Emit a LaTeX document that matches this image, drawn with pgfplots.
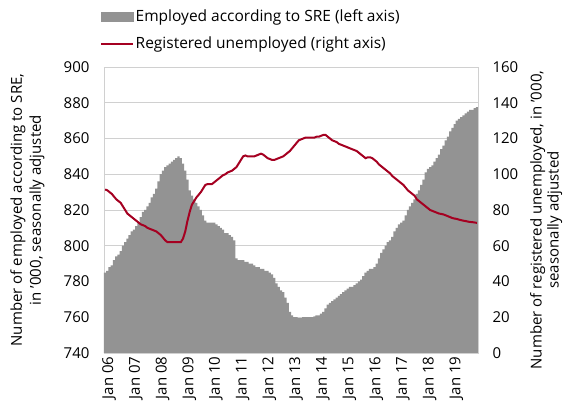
\documentclass[border=0pt]{standalone}
\usepackage{fontspec}
\setmainfont{Open Sans}
\usepackage{pgfplots}
\usepackage{pgfplotstable}
\pgfplotsset{compat=1.18}
\definecolor{bargray}{RGB}{147,147,147}
\definecolor{linered}{RGB}{165,0,33}
\definecolor{gridgray}{RGB}{208,208,208}

\pgfplotstableread[row sep=\\]{
m e u\\
0 785 91.5\\ 1 786 91\\ 2 788 90\\ 3 789 89\\ 4 792 87.5\\ 5 794 86\\ 6 795 85\\ 7 797 84\\ 8 800 82\\ 9 802 80\\ 10 804 78\\ 11 806 77\\
12 808 76\\ 13 809 75\\ 14 811 74\\ 15 813 73\\ 16 816 72\\ 17 819 71.5\\ 18 820 71\\ 19 822 70\\ 20 824 69.5\\ 21 827 69\\ 22 829 68.5\\ 23 832 68\\
24 836 67\\ 25 840 66\\ 26 842 64.5\\ 27 844 63\\ 28 845 62\\ 29 846 62\\ 30 847 62\\ 31 848 62\\ 32 849 62\\ 33 850 62\\ 34 849 62\\ 35 846 64\\
36 842 68\\ 37 837 74\\ 38 831 79\\ 39 828 83\\ 40 826 85\\ 41 824 87\\ 42 822 88.5\\ 43 820 90\\ 44 817 92\\ 45 814 94\\ 46 813 94.5\\ 47 813 94.5\\
48 813 94.5\\ 49 813 95.5\\ 50 812 96.5\\ 51 811 97.5\\ 52 810 98.5\\ 53 809 99.5\\ 54 807 100\\ 55 807 101\\ 56 806 101.5\\ 57 805 102\\ 58 803 103\\ 59 793 104\\
60 792 106\\ 61 792 108\\ 62 792 110\\ 63 791 110.5\\ 64 791 110\\ 65 790 110\\ 66 790 110\\ 67 789 110\\ 68 788 110.5\\ 69 788 111\\ 70 787 111.5\\ 71 787 111\\
72 786 110\\ 73 786 109\\ 74 785 108.5\\ 75 784 108\\ 76 782 108\\ 77 779 108.5\\ 78 777 109\\ 79 775 109.5\\ 80 774 110\\ 81 771 111\\ 82 768 112\\ 83 763 113\\
84 761 114.5\\ 85 760 116\\ 86 760 117.5\\ 87 759.5 119\\ 88 759.5 119.5\\ 89 760 120\\ 90 760 120.5\\ 91 760 120.5\\ 92 760 120.5\\ 93 760 120.5\\ 94 760.5 120.5\\ 95 761 121\\
96 761 121\\ 97 762 121.5\\ 98 763 122\\ 99 765 122\\ 100 767 121\\ 101 768 120\\ 102 769 119\\ 103 770 118.5\\ 104 771 118\\ 105 772 117\\ 106 773 116.5\\ 107 774 116\\
108 775 115.5\\ 109 776 115\\ 110 777 114.5\\ 111 777 114\\ 112 778 113.5\\ 113 779 113\\ 114 780 112\\ 115 781 111\\ 116 783 110\\ 117 785 109\\ 118 786 109.5\\ 119 787 109.5\\
120 787 109\\ 121 788 108\\ 122 790 107\\ 123 793 105.5\\ 124 796 104.5\\ 125 798 103.5\\ 126 800 102.5\\ 127 802 101.5\\ 128 803 100.5\\ 129 805 99\\ 130 808 98\\ 131 810 97\\
132 812 96\\ 133 813 95\\ 134 814 94\\ 135 817 92.5\\ 136 820 91\\ 137 822 90\\ 138 824 89\\ 139 826 88\\ 140 829 86\\ 141 831 85\\ 142 834 84\\ 143 837 83\\
144 841 82\\ 145 843 81\\ 146 844 80\\ 147 845 79.5\\ 148 847 79\\ 149 849 78.5\\ 150 851 78\\ 151 854 77.8\\ 152 856 77.5\\ 153 859 77\\ 154 861 76.5\\ 155 864 76\\
156 866 75.5\\ 157 868 75.2\\ 158 870 75\\ 159 871 74.6\\ 160 872 74.3\\ 161 873 74\\ 162 874 73.8\\ 163 875 73.5\\ 164 876 73.3\\ 165 876 73.2\\ 166 877 73\\ 167 877.5 72.8\\
}\data

\begin{document}
\begin{tikzpicture}[font=\fontsize{15}{17}\selectfont]
\path[use as bounding box] (-104pt,-61pt) rectangle (461pt,353pt);
\begin{axis}[
  scale only axis, width=374pt, height=286pt,
  at={(0pt,0pt)}, anchor=south west,
  xmin=-0.5, xmax=167.5, ymin=740, ymax=900,
  ytick={740,760,...,900},
  xtick={0,12,...,156},
  xticklabels={Jan 06,Jan 07,Jan 08,Jan 09,Jan 10,Jan 11,Jan 12,Jan 13,Jan 14,Jan 15,Jan 16,Jan 17,Jan 18,Jan 19},
  xticklabel style={rotate=90, anchor=east, yshift=-4pt, font=\fontsize{15}{17}\selectfont},
  yticklabel style={xshift=-11pt, font=\fontsize{15}{17}\selectfont},
  /pgf/number format/assume math mode=true,
  major tick length=0pt,
  ymajorgrids, grid style={gridgray, line width=0.9pt},
  axis line style={gridgray, line width=0.9pt},
  ylabel={Number of employed according to SRE,\\in '000, seasonally adjusted},
  ylabel style={align=center, at={(axis description cs:-0.2045,0.5)}, anchor=center, font=\fontsize{15}{19}\selectfont},
]
\addplot[ybar, bar width=1, bar shift=0pt, fill=bargray, draw=none] table[x=m, y=e]{\data};
\end{axis}
\begin{axis}[
  scale only axis, width=374pt, height=286pt,
  at={(0pt,0pt)}, anchor=south west,
  xmin=-0.5, xmax=167.5, ymin=0, ymax=160,
  axis x line=none, axis y line*=right,
  ytick={0,20,...,160},
  yticklabel style={xshift=11pt, anchor=west, font=\fontsize{15}{17}\selectfont},
  /pgf/number format/assume math mode=true,
  major tick length=0pt,
  axis line style={gridgray, line width=0.9pt},
  ylabel={Number of registered unemployed, in '000,\\seasonally adjusted},
  ylabel style={align=center, at={(axis description cs:1.182,0.465)}, anchor=center, font=\fontsize{15}{17}\selectfont},
  legend style={draw=none, fill=none, at={(-0.0187,1.2145)}, anchor=north west, row sep=10pt, nodes={inner xsep=1.5pt}, font=\fontsize{15.5}{17}\selectfont},
  legend cell align=left,
]
\addlegendimage{legend image code/.code={\fill[bargray] (0pt,-4.5pt) rectangle (32pt,4.5pt);}}
\addlegendentry{Employed according to SRE (left axis)}
\addplot[linered, line width=2pt, legend image code/.code={\draw[linered, line width=2pt] (0pt,0pt) -- (32pt,0pt);}] table[x=m, y=u]{\data};
\addlegendentry{Registered unemployed (right axis)}
\end{axis}
\end{tikzpicture}
\end{document}
